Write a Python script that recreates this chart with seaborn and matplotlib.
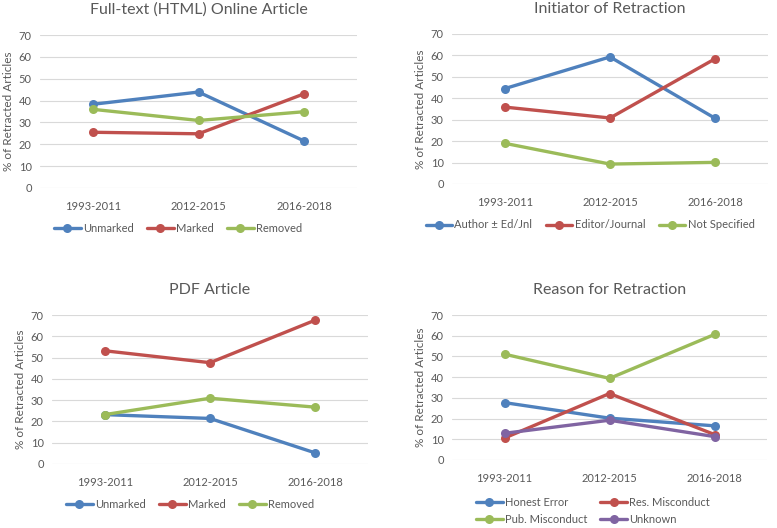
import pandas as pd
import matplotlib.pyplot as plt
import seaborn as sns

# Data
periods = ['1993-2011', '2012-2015', '2016-2018']

html_unmarked = [38.3, 43.9, 21.5]
html_marked = [25.5, 24.8, 43.1]
html_removed = [36.0, 30.9, 34.9]

init_author = [44.5, 59.3, 30.6]
init_editor = [35.9, 30.8, 58.5]
init_unspec = [19.0, 9.3, 10.1]

pdf_unmarked = [23.2, 21.4, 5.2]
pdf_marked = [53.2, 47.6, 67.6]
pdf_removed = [23.2, 30.9, 26.7]

reason_honest = [27.7, 20.2, 16.5]
reason_res = [10.6, 32.1, 12.3]
reason_pub = [51.1, 39.4, 60.6]
reason_unknown = [12.9, 19.2, 11.3]

BLUE, RED, GREEN, PURPLE = '#4F81BD', '#C0504D', '#9BBB59', '#8064A2'
GRAY = '#595959'

sns.set_theme(style='white')
plt.rcParams['font.family'] = ['Lato', 'DejaVu Sans']

W, H = 777, 528
fig = plt.figure(figsize=(W / 100, H / 100), dpi=100)


def px_axes(x0, y0, x1, y1):
    return fig.add_axes([x0 / W, 1 - y1 / H, (x1 - x0) / W, (y1 - y0) / H])


def panel(rect, title, title_y, series, legend_xy, ncol=3, order=None):
    ax = px_axes(*rect)
    rows = []
    for name, vals, col in series:
        for p, v in zip(periods, vals):
            rows.append({'period': p, 'value': v, 'series': name})
    df = pd.DataFrame(rows)
    palette = {name: col for name, _, col in series}
    sns.lineplot(data=df, x='period', y='value', hue='series', palette=palette,
                 marker='o', markersize=6.5, markeredgewidth=0, linewidth=2.4,
                 sort=False, ax=ax, legend=True)
    ax.set_xlim(-0.5, 2.5)
    ax.set_ylim(0, 70)
    ax.set_yticks(range(0, 71, 10))
    ax.grid(axis='y', color='#D9D9D9', linewidth=0.8)
    ax.set_axisbelow(True)
    for s in ax.spines.values():
        s.set_visible(False)
    ax.tick_params(axis='both', length=0, labelsize=8, colors=GRAY, pad=6)
    ax.tick_params(axis='x', pad=9)
    ax.set_xlabel('')
    ax.set_ylabel('% of Retracted Articles', fontsize=8.5, color=GRAY, labelpad=3)
    x0, y0, x1, y1 = rect
    fig.text((x0 + x1) / 2 / W, 1 - title_y / H, title, ha='center', va='center',
             fontsize=11.5, color=GRAY)
    handles, labels = ax.get_legend_handles_labels()
    if order is not None:
        handles = [handles[i] for i in order]
        labels = [labels[i] for i in order]
    lx, ly = legend_xy
    ax.legend(handles, labels, loc='center', ncol=ncol, frameon=False,
              bbox_to_anchor=(lx / W, 1 - ly / H),
              bbox_transform=fig.transFigure, fontsize=8, labelcolor=GRAY,
              handlelength=2.4, columnspacing=1.2, handletextpad=0.2,
              labelspacing=0.6)
    return ax


panel((40, 35, 357, 188), 'Full-text (HTML) Online Article', 10,
      [('Unmarked', html_unmarked, BLUE), ('Marked', html_marked, RED),
       ('Removed', html_removed, GREEN)], (178, 228))
panel((452, 34, 768, 184), 'Initiator of Retraction', 9,
      [('Author ± Ed/Jnl', init_author, BLUE), ('Editor/Journal', init_editor, RED),
       ('Not Specified', init_unspec, GREEN)], (590, 225))
panel((52, 315, 368, 464), 'PDF Article', 290,
      [('Unmarked', pdf_unmarked, BLUE), ('Marked', pdf_marked, RED),
       ('Removed', pdf_removed, GREEN)], (190, 504))
panel((452, 315, 767, 460), 'Reason for Retraction', 290,
      [('Honest Error', reason_honest, BLUE), ('Res. Misconduct', reason_res, RED),
       ('Pub. Misconduct', reason_pub, GREEN), ('Unknown', reason_unknown, PURPLE)],
      (593, 511), ncol=2, order=[0, 2, 1, 3])

fig.savefig('out.png', dpi=100)
